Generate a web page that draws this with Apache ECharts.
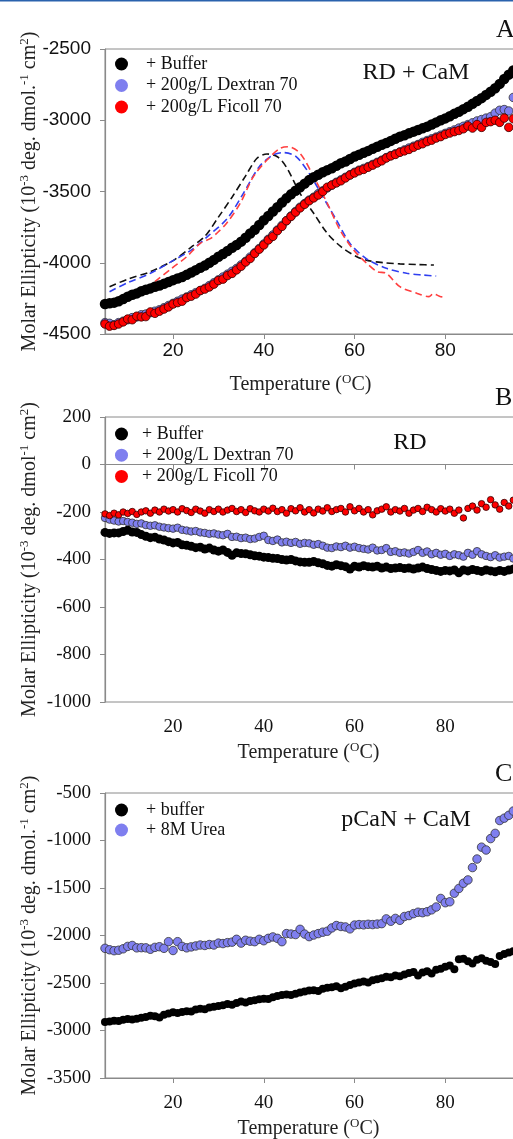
<!DOCTYPE html>
<html>
<head>
<meta charset="utf-8">
<script src="https://cdn.jsdelivr.net/npm/echarts@6/dist/echarts.min.js"></script>
<style>
  html, body { margin: 0; padding: 0; background: #fff; }
  #chart { width: 513px; height: 1139px; }
</style>
</head>
<body>
<div id="chart"></div>
<script>
// temperature grid (deg C) shared by the scatter series
const temps = [5,6,7,8,9,10,11,12,13,14,15,16,17,18,19,20,21,22,23,24,25,26,27,28,29,30,
  31,32,33,34,35,36,37,38,39,40,41,42,43,44,45,46,47,48,49,50,51,52,53,54,55,56,57,58,59,60,
  61,62,63,64,65,66,67,68,69,70,71,72,73,74,75,76,77,78,79,80,81,82,83,84,85,86,87,88,89,90,
  91,92,93,94,95];

// panel A : RD + CaM
const aBuffer = [-4290,-4285,-4280,-4270,-4255,-4238,-4225,-4215,-4200,-4190,-4180,-4168,-4160,-4148,-4135,-4122,
  -4110,-4100,-4085,-4068,-4052,-4035,-4020,-4000,-3980,-3958,-3938,-3918,-3895,-3875,-3852,-3825,-3795,-3768,
  -3735,-3702,-3672,-3640,-3610,-3578,-3548,-3520,-3495,-3470,-3445,-3420,-3400,-3383,-3365,-3350,-3337,-3320,
  -3302,-3290,-3272,-3255,-3242,-3228,-3215,-3200,-3186,-3172,-3160,-3145,-3130,-3115,-3105,-3092,-3080,-3068,
  -3057,-3045,-3030,-3015,-3000,-2987,-2972,-2955,-2940,-2922,-2905,-2885,-2865,-2845,-2822,-2800,-2775,-2745,
  -2710,-2680,-2650];
const aDextran = [-4420,-4425,-4435,-4420,-4410,-4400,-4385,-4380,-4365,-4360,-4350,-4340,-4330,-4315,-4300,-4285,
  -4270,-4255,-4240,-4225,-4210,-4195,-4180,-4160,-4140,-4120,-4100,-4080,-4060,-4040,-4015,-3990,-3960,-3930,
  -3900,-3868,-3835,-3805,-3770,-3738,-3705,-3672,-3640,-3610,-3585,-3560,-3540,-3515,-3495,-3475,-3455,-3435,
  -3418,-3400,-3382,-3365,-3350,-3338,-3325,-3310,-3295,-3280,-3262,-3248,-3235,-3222,-3208,-3195,-3182,-3170,
  -3155,-3142,-3130,-3118,-3105,-3092,-3080,-3068,-3055,-3042,-3030,-3018,-3005,-2995,-2985,-2975,-2950,-2930,
  -2925,-2935,-2840];
const aFicoll = [-4430,-4445,-4440,-4430,-4415,-4395,-4400,-4375,-4380,-4378,-4345,-4355,-4340,-4325,-4310,-4290,
  -4280,-4270,-4245,-4235,-4220,-4195,-4185,-4170,-4150,-4125,-4115,-4090,-4075,-4050,-4025,-3995,-3970,-3935,
  -3905,-3875,-3840,-3815,-3775,-3745,-3705,-3675,-3645,-3615,-3590,-3565,-3545,-3525,-3500,-3470,-3455,-3440,
  -3425,-3405,-3385,-3370,-3355,-3345,-3330,-3315,-3300,-3285,-3265,-3250,-3240,-3225,-3215,-3205,-3190,-3175,
  -3165,-3150,-3140,-3125,-3115,-3100,-3090,-3080,-3072,-3060,-3040,-3055,-3030,-3050,-3015,-3010,-3000,-3015,
  -2985,-3050,-2990];

// dashed (derivative) traces in panel A
const aBufferDashT = [6,10,15,20,24,27,30,33,36,38.5,40.7,43,45,48,51,54,57,60.5,63,66.5,70,74,77.5];
const aBufferDash = [-4168,-4115,-4063,-3985,-3890,-3815,-3680,-3540,-3390,-3267,-3237,-3256,-3330,-3513,
  -3653,-3794,-3887,-3958,-3985,-4000,-4008,-4013,-4016];
const aDextranDashT = [6,10,15,20,24,28,32,35.5,39,42,44.3,47,50,53,56,59,62.5,67,71.5,75,78];
const aDextranDash = [-4203,-4140,-4074,-3985,-3911,-3805,-3688,-3513,-3326,-3244,-3227,-3252,-3373,-3536,
  -3700,-3864,-3969,-4039,-4074,-4086,-4093];
const aFicollDashT = [16,19.7,23,26,28.2,29.6,31.8,34.8,37.7,40.7,43.6,45.4,48,51,54,56.8,59.8,62.7,65,67,70,
  73.8,76.3,77.4,79,80];
const aFicollDash = [-4133,-4039,-3958,-3864,-3831,-3794,-3723,-3583,-3396,-3279,-3197,-3186,-3232,-3396,-3583,
  -3770,-3911,-4004,-4063,-4074,-4168,-4215,-4238,-4219,-4238,-4240];

// panel B : RD
const bBuffer = [-286,-290,-288,-288,-282,-277,-284,-286,-295,-302,-308,-306,-314,-318,-325,-330,-328,-338,-340,
  -344,-350,-348,-356,-352,-360,-365,-360,-370,-382,-372,-375,-376,-380,-384,-386,-390,-392,-395,-396,-400,-402,
  -400,-406,-410,-412,-412,-408,-414,-418,-425,-428,-422,-426,-430,-440,-428,-432,-426,-430,-432,-428,-436,-432,
  -438,-436,-434,-438,-436,-440,-436,-432,-438,-442,-446,-450,-446,-448,-444,-456,-444,-448,-442,-446,-450,-444,
  -448,-452,-446,-450,-444,-440];
const bDextran = [-225,-232,-236,-240,-238,-242,-245,-250,-248,-255,-258,-256,-262,-265,-268,-270,-266,-275,-278,
  -282,-280,-286,-288,-292,-290,-295,-298,-292,-305,-304,-310,-308,-314,-312,-305,-300,-318,-322,-316,-328,-325,
  -330,-326,-334,-330,-332,-338,-335,-342,-350,-352,-345,-348,-342,-350,-346,-352,-355,-358,-350,-362,-360,-352,
  -368,-365,-372,-370,-375,-368,-360,-372,-366,-378,-372,-380,-376,-385,-378,-382,-388,-372,-380,-365,-378,-385,
  -390,-382,-392,-388,-385,-396];
const bFicoll = [-208,-215,-205,-212,-200,-206,-198,-210,-200,-195,-205,-192,-200,-188,-196,-190,-200,-186,-194,
  -202,-188,-196,-205,-190,-198,-188,-200,-192,-185,-198,-190,-202,-186,-195,-200,-188,-196,-184,-198,-190,-205,
  -186,-195,-182,-200,-190,-204,-188,-196,-182,-198,-190,-185,-200,-178,-195,-185,-200,-190,-212,-195,-188,-178,
  -200,-190,-196,-185,-205,-192,-185,-198,-180,-190,-200,-186,-196,-188,-205,-192,-225,-185,-175,-192,-165,-180,
  -148,-170,-188,-160,-175,-150];

// panel C : pCaN + CaM
const cBuffer = [-2910,-2905,-2898,-2900,-2888,-2880,-2885,-2875,-2865,-2858,-2845,-2850,-2862,-2835,-2820,-2808,
  -2815,-2805,-2798,-2800,-2780,-2770,-2775,-2758,-2750,-2742,-2735,-2720,-2728,-2710,-2695,-2705,-2690,-2682,
  -2672,-2665,-2668,-2650,-2638,-2625,-2620,-2625,-2612,-2600,-2590,-2580,-2575,-2585,-2560,-2550,-2545,-2535,
  -2555,-2540,-2520,-2505,-2495,-2485,-2495,-2470,-2460,-2450,-2435,-2440,-2420,-2430,-2410,-2395,-2385,-2420,
  -2390,-2375,-2400,-2360,-2350,-2330,-2315,-2355,-2250,-2245,-2270,-2295,-2255,-2240,-2265,-2280,-2300,-2215,
  -2195,-2180,-2165];
const cUrea = [-2135,-2150,-2160,-2155,-2140,-2115,-2105,-2130,-2128,-2130,-2145,-2125,-2118,-2135,-2065,-2158,
  -2065,-2115,-2130,-2120,-2110,-2100,-2105,-2095,-2100,-2080,-2085,-2075,-2070,-2040,-2080,-2050,-2060,-2065,
  -2040,-2055,-2030,-2015,-2030,-2065,-1980,-1985,-1990,-1935,-1985,-2012,-1995,-1980,-1965,-1955,-1920,-1895,
  -1905,-1910,-1930,-1890,-1885,-1888,-1882,-1885,-1880,-1875,-1825,-1850,-1820,-1840,-1800,-1790,-1770,-1755,
  -1760,-1750,-1730,-1700,-1610,-1655,-1645,-1555,-1505,-1450,-1415,-1285,-1195,-1070,-1100,-980,-925,-790,
  -765,-735,-690];

const xTicks = [20, 40, 60, 80];

function pairs(xs, ys) {
  return xs.map((x, i) => [x, ys[i]]);
}

const serif = "'Liberation Serif', 'DejaVu Serif', serif";
const sans = "'Liberation Sans', Arial, sans-serif";
const axisGray = '#8a8a8a';
const gridTops = [49, 417, 793];

let mchart = echarts.init(document.getElementById('chart'));

function makeX(idx, font, margin, shift) {
  return {
    type: 'value', gridIndex: idx, min: 5, max: 100,
    name: 'Temperature ({s|O}C)', nameLocation: 'middle', nameGap: 39, nameMoveOverlap: false,
    nameTextStyle: {
      fontFamily: serif, fontSize: 20, color: '#222', lineHeight: 24,
      padding: [0, shift, 0, 0],
      rich: { s: { fontFamily: serif, fontSize: 13, lineHeight: 13, verticalAlign: 'top' } }
    },
    axisLine: { lineStyle: { color: axisGray, width: 1.2 } },
    axisTick: { customValues: xTicks, length: 5, lineStyle: { color: axisGray } },
    axisLabel: {
      customValues: xTicks, fontFamily: font, fontSize: 19, color: '#111', margin: margin,
      formatter: v => String(v)
    },
    splitLine: { show: false }
  };
}

function makeY(idx, min, max, step, font, nameText) {
  return {
    type: 'value', gridIndex: idx, min: min, max: max, interval: step,
    name: nameText, nameLocation: 'middle', nameRotate: 90, nameGap: 63, nameMoveOverlap: false,
    nameTextStyle: {
      fontFamily: serif, fontSize: 20, color: '#222', lineHeight: 24,
      rich: { s: { fontFamily: serif, fontSize: 13, lineHeight: 13, verticalAlign: 'top' } }
    },
    axisLine: { show: true, lineStyle: { color: axisGray, width: 1.2 } },
    axisTick: { show: true, length: 5, lineStyle: { color: axisGray } },
    axisLabel: { fontFamily: font, fontSize: 19, color: '#111', margin: 14, formatter: v => String(v) },
    splitLine: { show: false }
  };
}

function dots(name, idx, data, color, size, border) {
  return {
    name: name, type: 'scatter', xAxisIndex: idx, yAxisIndex: idx,
    data: data, symbolSize: size, z: 3,
    itemStyle: { color: color, opacity: 1, borderColor: border || color, borderWidth: border ? 0.8 : 0 }
  };
}

function dashed(name, idx, data, color) {
  return {
    name: name, type: 'line', xAxisIndex: idx, yAxisIndex: idx,
    data: data, showSymbol: false, smooth: 0.3, z: 2,
    lineStyle: { color: color, width: 1.6, type: [7, 4] }
  };
}

function legendAt(top, left, pad, gap, names) {
  return {
    orient: 'vertical', left: left, top: top, icon: 'circle',
    itemWidth: 13, itemHeight: 13, itemGap: gap, data: names,
    itemStyle: { borderWidth: 0 },
    textStyle: { fontFamily: serif, fontSize: 18, color: '#111', lineHeight: 18, padding: [0, 0, 0, pad] }
  };
}

const yNameDot = 'Molar Ellipticity (10{s|-3} deg. dmol.{s|-1} cm{s|2})';
const yNameB = 'Molar Ellipticity (10{s|-3} deg. dmol{s|-1} cm{s|2})';
const blue = '#7f7fef';

let option = {
  animation: false,
  backgroundColor: '#fff',
  grid: gridTops.map(t => ({
    left: 105, top: t, width: 431, height: 285, outerBoundsMode: 'none', containLabel: false,
    show: true, borderColor: axisGray, borderWidth: 1, backgroundColor: 'transparent'
  })),
  xAxis: [makeX(0, sans, 7, 40), makeX(1, serif, 16, 24), makeX(2, serif, 16, 24)],
  yAxis: [
    makeY(0, -4500, -2500, 500, sans, yNameDot),
    makeY(1, -1000, 200, 200, serif, yNameB),
    makeY(2, -3500, -500, 500, serif, yNameDot)
  ],
  legend: [
    legendAt(50, 110, 13, 3.5, ['+ Buffer', '+ 200g/L Dextran 70', '+ 200g/L Ficoll 70']),
    legendAt(420, 110, 9, 3.2, ['+ Buffer', '+ 200g/L Dextran 70', '+ 200g/L Ficoll 70']),
    legendAt(796, 110, 13, 2, ['+ buffer', '+ 8M Urea'])
  ],
  series: [
    dashed('A buffer deriv', 0, pairs(aBufferDashT, aBufferDash), '#111'),
    dashed('A dextran deriv', 0, pairs(aDextranDashT, aDextranDash), '#2f3ff0'),
    dashed('A ficoll deriv', 0, pairs(aFicollDashT, aFicollDash), '#ff4040'),
    dots('+ 200g/L Dextran 70', 0, pairs(temps, aDextran), blue, 8.5, '#333'),
    dots('+ 200g/L Ficoll 70', 0, pairs(temps, aFicoll), '#ff0000', 8.5, '#300'),
    dots('+ Buffer', 0, pairs(temps, aBuffer), '#000', 10.5),

    dots('+ Buffer', 1, pairs(temps, bBuffer), '#000', 9),
    dots('+ 200g/L Dextran 70', 1, pairs(temps, bDextran), blue, 7.5, '#333'),
    dots('+ 200g/L Ficoll 70', 1, pairs(temps, bFicoll), '#ff0000', 6.5, '#300'),

    dots('+ buffer', 2, pairs(temps, cBuffer), '#000', 8),
    dots('+ 8M Urea', 2, pairs(temps, cUrea), blue, 8.5, '#333')
  ],
  graphic: [
    { type: 'rect', left: 0, top: 0, shape: { width: 513, height: 1.5 }, style: { fill: '#2a62ad' } },
    { type: 'text', x: 496, y: 30, style: { text: 'A', font: '26px ' + serif, fill: '#111', verticalAlign: 'middle' } },
    { type: 'text', x: 416, y: 73, style: { text: 'RD + CaM', font: '24px ' + serif, fill: '#111', align: 'center', verticalAlign: 'middle' } },
    { type: 'text', x: 495, y: 398, style: { text: 'B', font: '26px ' + serif, fill: '#111', verticalAlign: 'middle' } },
    { type: 'text', x: 410, y: 443, style: { text: 'RD', font: '24px ' + serif, fill: '#111', align: 'center', verticalAlign: 'middle' } },
    { type: 'text', x: 495, y: 774, style: { text: 'C', font: '26px ' + serif, fill: '#111', verticalAlign: 'middle' } },
    { type: 'text', x: 406, y: 820, style: { text: 'pCaN + CaM', font: '24px ' + serif, fill: '#111', align: 'center', verticalAlign: 'middle' } }
  ]
};

mchart.setOption(option);
</script>
</body>
</html>
